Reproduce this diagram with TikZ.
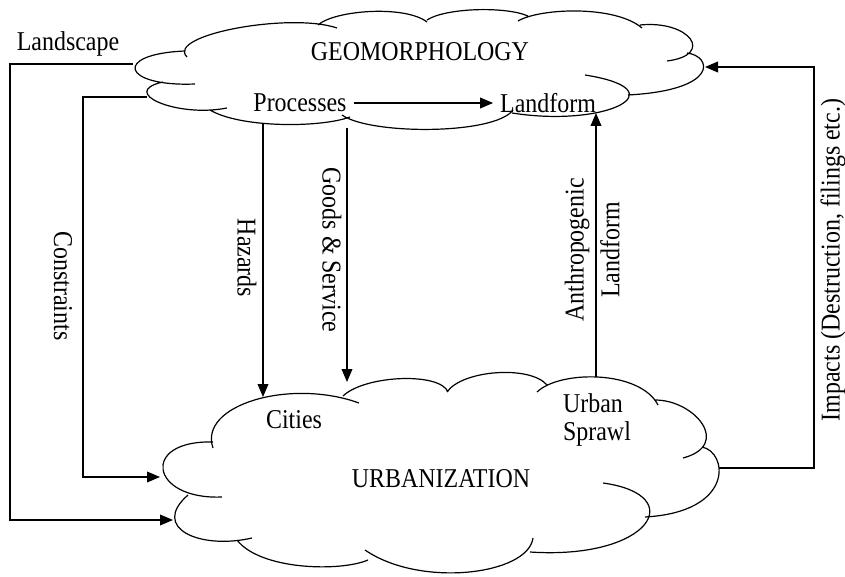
\documentclass[tikz,border=0pt]{standalone}
\usepackage{fontspec}
\setmainfont[FakeStretch=0.88]{Liberation Serif}
\usetikzlibrary{arrows.meta}

\tikzset{
    link/.style={line width=0.6pt, -{Triangle[length=6.5pt,width=5.4pt]}},
    puff/.style={line width=0.6pt},
}

\begin{document}
\begin{tikzpicture}[x=0.5pt,y=-0.5pt,font=\fontsize{13.6}{14}\selectfont]
        \useasboundingbox (0,0) rectangle (845,577);

        \draw[puff] (187,57) .. controls (165,35) and (290,12) .. (337,28)
            (318,25) .. controls (335,10) and (405,5) .. (427,22)
            (427,20) .. controls (445,8) and (505,6) .. (528,16)
            (518,21) .. controls (540,8) and (615,5) .. (642,28)
            (640,25) .. controls (690,20) and (715,55) .. (667,61)
            (687,53) .. controls (712,56) and (720,90) .. (628,95)
            (585,75) .. controls (680,90) and (607,128) .. (512,113)
            (513,110) .. controls (495,135) and (370,135) .. (342,115)
            (350,117) .. controls (320,128) and (240,128) .. (210,110)
            (227,108) .. controls (176,118) and (118,92) .. (163,82)
            (195,84) .. controls (122,87) and (112,54) .. (185,51);

        \draw[puff] (213,448) .. controls (198,405) and (290,378) .. (359,403)
            (343,396) .. controls (365,375) and (440,372) .. (448,392)
            (447,392) .. controls (462,370) and (530,365) .. (547,385)
            (537,392) .. controls (560,370) and (640,370) .. (658,405)
            (655,400) .. controls (695,400) and (732,445) .. (683,458)
            (702,447) .. controls (728,452) and (735,512) .. (645,517)
            (603,483) .. controls (690,495) and (650,560) .. (530,552)
            (533,538) .. controls (528,575) and (420,588) .. (365,550)
            (368,560) .. controls (340,572) and (260,570) .. (237,540)
            (252,538) .. controls (200,550) and (150,528) .. (188,495)
            (222,497) .. controls (150,500) and (140,440) .. (213,442);

        \node (geo) at (420,52) {GEOMORPHOLOGY};
        \node (proc) at (300,103) {Processes};
        \node (landf) at (548,103) {Landform};
        \node (urb) at (441,479) {URBANIZATION};
        \node (cities) at (294,420) {Cities};
        \node[align=left] (sprawl) at (597,420) {Urban\\Sprawl};

        \node (landsc) at (68,44) {Landscape};
        \node[rotate=-90] (constr) at (63,286) {Constraints};
        \node[rotate=-90] (hazards) at (247,258) {Hazards};
        \node[rotate=-90] (goods) at (332,250) {Goods \& Service};
        \node[rotate=90] (anthro) at (577,250) {Anthropogenic};
        \node[rotate=90] (anthlf) at (610,250) {Landform};
        \node[rotate=90] (impacts) at (833,260) {Impacts (Destruction, filings etc.)};

        \coordinate (geoW) at (133,64);
        \coordinate (geoSW) at (147,97);
        \coordinate (geoS1) at (263,123);
        \coordinate (geoS2) at (347,128);
        \coordinate (geoS3) at (596,113);
        \coordinate (geoE) at (705,67);
        \coordinate (urbW) at (160,477);
        \coordinate (urbWlow) at (173,520);
        \coordinate (urbN1) at (263,397);
        \coordinate (urbN2) at (347,382);
        \coordinate (urbN3) at (596,377);
        \coordinate (urbE) at (719,468);

        \draw[link] (proc.east) -- (landf.west);
        \draw[link] (geoW) -- ++(-123,0) |- (urbWlow);
        \draw[link] (geoSW) -- ++(-64,0) |- (urbW);
        \draw[link] (geoS1) -- (urbN1);
        \draw[link] (geoS2) -- (urbN2);
        \draw[link] (urbN3) -- (geoS3);
        \draw[link] (urbE) -- ++(95,0) |- (geoE);
\end{tikzpicture}
\end{document}
